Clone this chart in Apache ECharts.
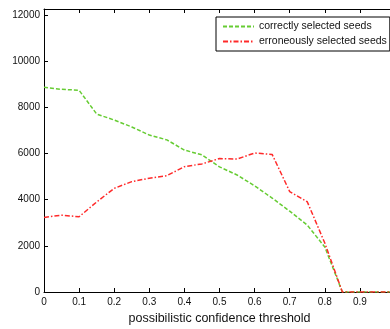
<!DOCTYPE html>
<html>
<head>
<meta charset="utf-8">
<script src="https://cdn.jsdelivr.net/npm/echarts@6/dist/echarts.min.js"></script>
<style>
  html, body { margin: 0; padding: 0; background: #fff; }
  #chart { width: 390px; height: 329px; }
</style>
</head>
<body>
<div id="chart"></div>
<script>
// thresholds on the x axis
const thresholds = [0, 0.05, 0.1, 0.15, 0.2, 0.25, 0.3, 0.35, 0.4, 0.45, 0.5,
  0.55, 0.6, 0.65, 0.7, 0.75, 0.8, 0.85, 0.9, 0.95, 1.0];
const correctSeeds = [8870, 8780, 8740, 7710, 7450, 7150, 6800, 6590, 6150, 5940, 5420,
  5070, 4600, 4070, 3500, 2900, 1950, 0, 0, 0, 0];
const wrongSeeds = [3230, 3330, 3260, 3900, 4490, 4780, 4930, 5040, 5430, 5550, 5780,
  5760, 6020, 5960, 4350, 3910, 2120, 0, 0, 0, 0];
const yTicks = [0, 2000, 4000, 6000, 8000, 10000, 12000];

const font = 'Liberation Sans, Arial, sans-serif';
const chart = echarts.init(document.getElementById('chart'));

chart.setOption({
  animation: false,
  backgroundColor: '#fff',
  grid: { left: 44, top: 9, width: 351, bottom: 37, outerBoundsMode: 'none' },
  legend: {
    orient: 'vertical',
    left: 216,
    top: 17,
    padding: [4, 3, 4, 6],
    itemGap: 4,
    itemWidth: 31,
    itemHeight: 13,
    backgroundColor: '#fff',
    borderColor: '#000',
    borderWidth: 1,
    itemStyle: { opacity: 0 },
    textStyle: { fontFamily: font, fontSize: 10.5, color: '#111', padding: [0, 0, 0, 0] },
    data: ['correctly selected seeds', 'erroneously selected seeds']
  },
  xAxis: [{
    type: 'value',
    min: 0,
    max: 1,
    interval: 0.1,
    name: 'possibilistic confidence threshold',
    nameLocation: 'middle',
    nameGap: 20,
    nameTextStyle: { fontFamily: font, fontSize: 12.5, color: '#111' },
    axisLine: { lineStyle: { color: '#000', width: 1 } },
    axisTick: { inside: true, length: 4, lineStyle: { color: '#000' } },
    axisLabel: { fontFamily: font, fontSize: 10, color: '#111', margin: 5,
      formatter: v => v > 0.95 ? '' : Math.round(v * 10) / 10 + '' },
    splitLine: { show: false }
  }, {
    type: 'value',
    position: 'top',
    min: 0,
    max: 1,
    interval: 0.1,
    axisLine: { show: true, lineStyle: { color: '#000', width: 1 } },
    axisTick: { inside: true, length: 4, lineStyle: { color: '#000' } },
    axisLabel: { show: false },
    splitLine: { show: false }
  }],
  yAxis: {
    type: 'value',
    min: 0,
    max: 12260,
    interval: 2000,
    axisLine: { show: true, lineStyle: { color: '#000', width: 1 } },
    axisTick: { inside: true, length: 4, lineStyle: { color: '#000' } },
    axisLabel: { fontFamily: font, fontSize: 10, color: '#111', margin: 4,
      formatter: v => yTicks.includes(v) ? String(v) : '' },
    splitLine: { show: false }
  },
  series: [{
    name: 'correctly selected seeds',
    type: 'line',
    symbol: 'none',
    data: thresholds.map((t, i) => [t, correctSeeds[i]]),
    itemStyle: { color: '#66cc33' },
    lineStyle: { color: '#66cc33', width: 1.5, type: [4, 2] }
  }, {
    name: 'erroneously selected seeds',
    type: 'line',
    symbol: 'none',
    data: thresholds.map((t, i) => [t, wrongSeeds[i]]),
    itemStyle: { color: '#ff2a2a' },
    lineStyle: { color: '#ff2a2a', width: 1.5, type: [5, 2, 1.5, 2] }
  }]
});
</script>
</body>
</html>
